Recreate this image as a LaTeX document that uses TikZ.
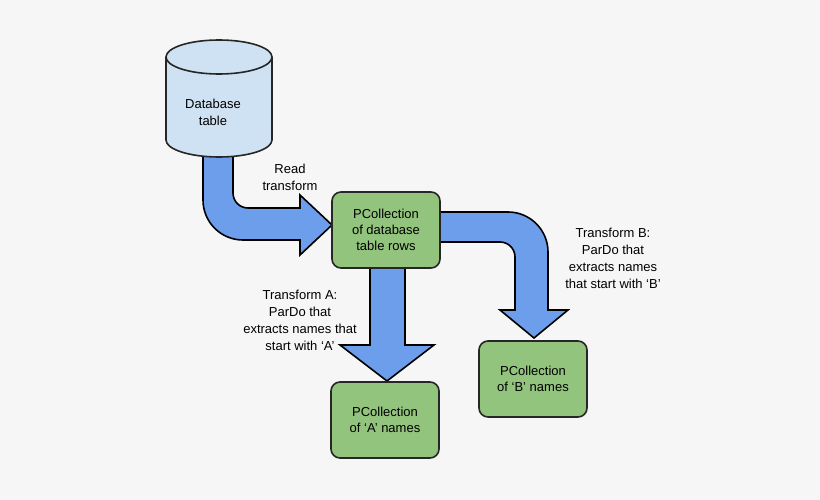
\documentclass[tikz,border=0pt]{standalone}
\usepackage{fontspec}
\setmainfont{Liberation Sans}
\usetikzlibrary{positioning}
\definecolor{bgc}{HTML}{F6F6F6}
\definecolor{pcgreen}{HTML}{93C47D}
\definecolor{flowblue}{HTML}{6D9EEB}
\definecolor{dbblue}{HTML}{CFE2F3}
\begin{document}
\begin{tikzpicture}[x=1pt,y=-1pt,line width=1.6pt,
  coll/.style={draw=black!85,fill=pcgreen,rounded corners=9pt,minimum width=108pt,minimum height=76pt,align=center,font=\fontsize{13}{16}\selectfont},
  flow/.style={draw=black,fill=flowblue,line join=miter},
  lbl/.style={align=center,font=\fontsize{13}{17}\selectfont}]
  \fill[bgc] (0,0) rectangle (820,500);
  \useasboundingbox (0,0) rectangle (820,500);

  % flows, under the nodes
  \draw[flow] (203,150) -- (203,200) arc[start angle=180,end angle=270,x radius=40,y radius=-40]
    -- (300,240) -- (300,255) -- (332,225) -- (300,195) -- (300,208) -- (248,208)
    arc[start angle=270,end angle=180,x radius=15,y radius=-15] -- (233,150);
  \draw[flow] (370,265) -- (370,345) -- (340,345) -- (387,381) -- (434,345) -- (405,345) -- (405,265);
  \draw[flow] (437,212) -- (508,212) arc[start angle=90,end angle=0,x radius=40,y radius=-40]
    -- (548,310) -- (568,310) -- (534,338) -- (500,310) -- (515,310) -- (515,257)
    arc[start angle=0,end angle=90,x radius=15,y radius=-15] -- (437,242);

  % database
  \draw[draw=black!85,fill=dbblue] (166,57) -- (166,140) arc[start angle=180,end angle=360,x radius=53,y radius=-17]
    -- (272,57);
  \draw[draw=black!85,fill=dbblue] (219,57) ellipse[x radius=53,y radius=17];
  \node[lbl] (db) at (213,112) {Database\\table};

  \node[coll] (rows) at (386,230) {PCollection\\of database\\table rows};
  \node[coll] (na) at (385,420) {PCollection\\of ‘A’ names};
  \node[coll] (nb) at (533,379) {PCollection\\of ‘B’ names};

  \node[lbl] (read) at (290,177) {Read\\transform};
  \node[lbl] (ta) at (300,320) {Transform A:\\ParDo that\\extracts names that\\start with ‘A’};
  \node[lbl] (tb) at (613,258) {Transform B:\\ParDo that\\extracts names\\that start with ‘B’};
\end{tikzpicture}
\end{document}
